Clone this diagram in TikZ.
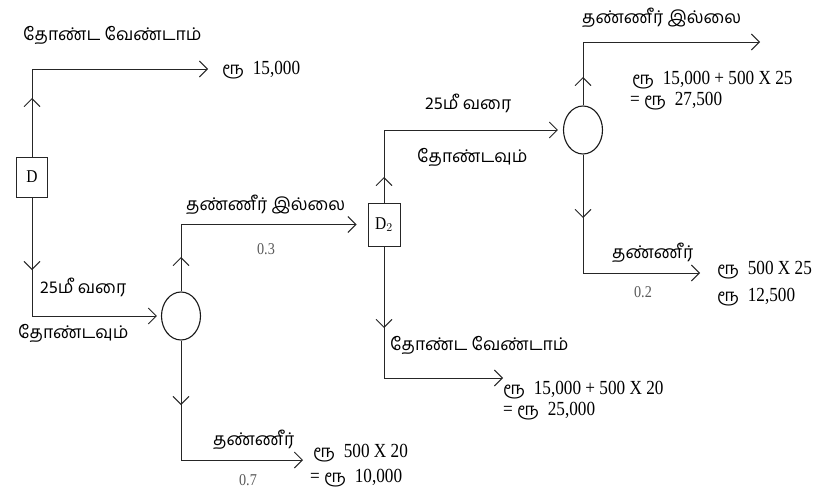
\documentclass[tikz,border=0pt]{standalone}
\usepackage{fontspec}
\newfontfamily\tamil[Script=Tamil]{Hind Madurai}
\newfontfamily\numf[FakeStretch=0.86]{Liberation Serif}
\usetikzlibrary{arrows.meta,shapes.geometric}
\newcommand\rupa{{\tamil\fontsize{17}{20}\selectfont ரூ}}
\begin{document}
\begin{tikzpicture}[x=1pt,y=-1pt,
  ln/.style={line width=0.9pt, draw=black!85},
  tip/.style={-{Straight Barb[length=8pt,width=16pt,line width=0.9pt]}},
  decbox/.style={draw=black!85, line width=1pt, rectangle, inner sep=0, font=\numf\fontsize{18}{20}\selectfont},
  chance/.style={draw=black!90, line width=1.1pt, ellipse, inner sep=0, minimum width=39pt, minimum height=48pt},
  tt/.style={font=\tamil\fontsize{17.5}{20}\selectfont, anchor=west, inner sep=0},
  val/.style={font=\numf\fontsize{20}{22}\selectfont, anchor=west, inner sep=0},
  prob/.style={font=\numf\fontsize{16.5}{18}\selectfont, text=black!65, inner sep=0}]
\fill[white] (0,0) rectangle (836,495);
\useasboundingbox (0,0) rectangle (836,495);

% nodes
\node[decbox, minimum width=31pt, minimum height=40pt] (D) at (32,177) {D};
\node[chance] (c1) at (181,316) {};
\node[decbox, minimum width=32pt, minimum height=43pt] (D2) at (384,224.5) {D$_2$};
\node[chance] (c2) at (583,130) {};

% free ends
\coordinate (e1) at (208,69);
\coordinate (e3) at (303,460);
\coordinate (e4) at (503,378);
\coordinate (e5) at (760,42);
\coordinate (e6) at (700,273);

% connectors
\draw[ln, tip] (D.north) |- (e1);
\draw[ln, tip, shorten >=4pt] (D.south) |- (c1.west);
\draw[ln, tip, shorten >=11pt] (c1.north) |- (D2.west);
\draw[ln, tip] (c1.south) |- (e3);
\draw[ln, tip, shorten >=5pt] (D2.north) |- (c2.west);
\draw[ln, tip] (D2.south) |- (e4);
\draw[ln, tip] (c2.north) |- (e5);
\draw[ln, tip] (c2.south) |- (e6);

% mid arrows
\draw[ln, tip] (D.north) -- (D.north |- 0,98);
\draw[ln, tip] (D.south) -- (D.south |- 0,270);
\draw[ln, tip] (c1.north) -- (c1.north |- 0,257);
\draw[ln, tip] (c1.south) -- (c1.south |- 0,405);
\draw[ln, tip] (D2.north) -- (D2.north |- 0,177);
\draw[ln, tip] (D2.south) -- (D2.south |- 0,328);
\draw[ln, tip] (c2.north) -- (c2.north |- 0,77);
\draw[ln, tip] (c2.south) -- (c2.south |- 0,218);

% labels
\node[tt] (l1) at (23,35) {தோண்ட வேண்டாம்};
\node[val] (v1) at (222,70) {\rupa~~15,000};
\node[tt] (l2) at (40,287) {25மீ வரை};
\node[tt] (l3) at (18,333) {தோண்டவும்};
\node[tt] (l4) at (186,205) {தண்ணீர் இல்லை};
\node[prob] (p1) at (266,249) {0.3};
\node[tt] (l5) at (213,440) {தண்ணீர்};
\node[prob] (p2) at (248,480) {0.7};
\node[val] (v2) at (313,453) {\rupa~~500 X 20};
\node[val] (v3) at (310,478) {= \rupa~~10,000};
\node[tt] (l6) at (425,103) {25மீ வரை};
\node[tt] (l7) at (417,157) {தோண்டவும்};
\node[tt] (l8) at (390,345) {தோண்ட வேண்டாம்};
\node[val] (v4) at (503,390) {\rupa~~15,000 + 500 X 20};
\node[val] (v5) at (503,411) {= \rupa~~25,000};
\node[tt] (l9) at (582,18) {தண்ணீர் இல்லை};
\node[val] (v6) at (632,80) {\rupa~~15,000 + 500 X 25};
\node[val] (v7) at (630,101) {= \rupa~~27,500};
\node[tt] (l10) at (612,253) {தண்ணீர்};
\node[prob] (p3) at (643,292) {0.2};
\node[val] (v8) at (717,270) {\rupa~~500 X 25};
\node[val] (v9) at (717,297) {\rupa~~12,500};
\end{tikzpicture}
\end{document}
